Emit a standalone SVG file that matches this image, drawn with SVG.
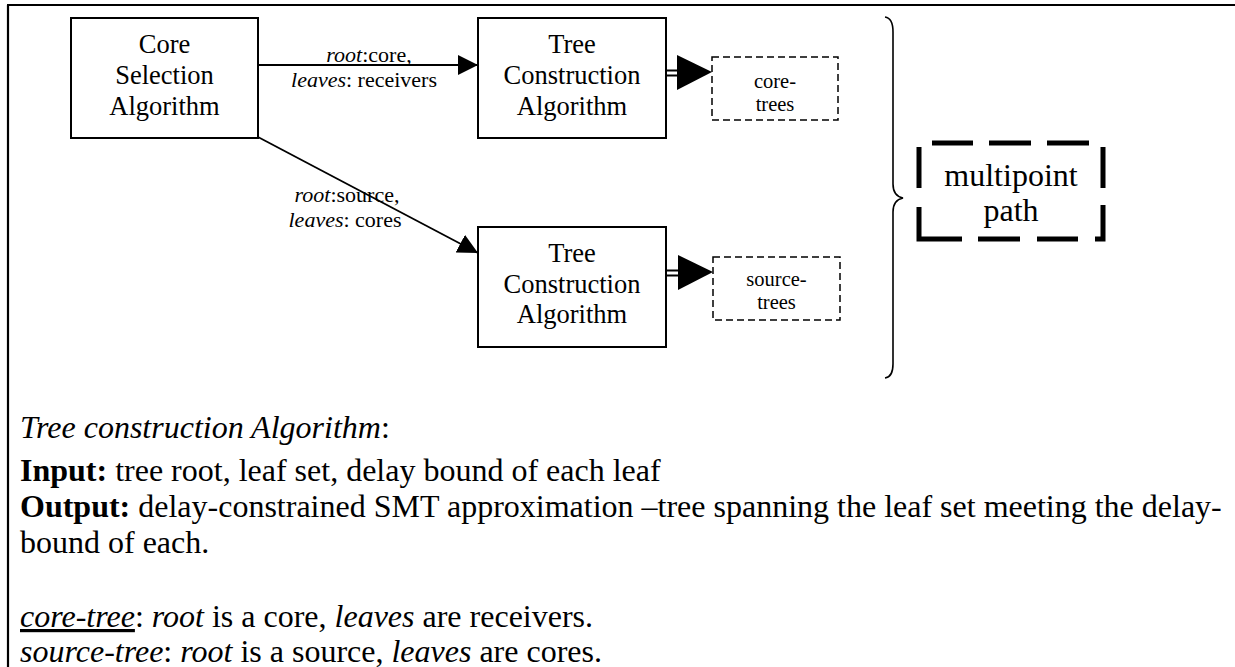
<svg xmlns="http://www.w3.org/2000/svg" width="1235" height="667" viewBox="0 0 1235 667">
<style>
.box{fill:#fff;stroke:#000;stroke-width:2}
.dbox{fill:#fff;stroke:#000;stroke-width:1.5;stroke-dasharray:7 4}
.ln{stroke:#000;stroke-width:1.8;fill:none}
.serif{font-family:"Liberation Serif","Times New Roman",serif;fill:#000}
.t26{font-size:26.5px;text-anchor:middle}
.t22{font-size:22px;text-anchor:middle}
.t20{font-size:20.5px;text-anchor:middle}
.t32{font-size:32px}
.it{font-style:italic}
.b{font-weight:bold}
</style>
<defs>
<marker id="ah" viewBox="0 0 20 20" markerUnits="userSpaceOnUse" markerWidth="20" markerHeight="20" refX="20" refY="10" orient="auto">
<path d="M0,0 L20,10 L0,20 z" fill="#000"/>
</marker>
<clipPath id="c1"><rect x="712" y="57" width="126" height="54"/></clipPath>
<clipPath id="c2"><rect x="713" y="257" width="127" height="53"/></clipPath>
</defs>
<rect width="1235" height="667" fill="#fff"/>
<path d="M7,5 H1235 M8,5 V667" stroke="#000" stroke-width="2.2" fill="none"/>

<g id="connectors">
<line class="ln" x1="258" y1="65" x2="478" y2="65" marker-end="url(#ah)"/>
<line class="ln" x1="258" y1="137" x2="478" y2="253" marker-end="url(#ah)"/>
<path class="ln" stroke-width="1.5" d="M666,70.5 H678 M666,75.5 H678"/>
<polygon points="677,55 712,72 677,90" fill="#000"/>
<path class="ln" stroke-width="1.5" d="M666,270.5 H679 M666,275.5 H679"/>
<polygon points="678,255 713,272 678,290" fill="#000"/>
<text class="serif t22" x="369" y="62"><tspan class="it">root</tspan>:core,</text>
<text class="serif t22" x="364" y="87"><tspan class="it">leaves</tspan>: receivers</text>
<text class="serif t22" x="347" y="202"><tspan class="it">root</tspan>:source,</text>
<text class="serif t22" x="345" y="227"><tspan class="it">leaves</tspan>: cores</text>
</g>

<g id="core-selection">
<rect class="box" x="71" y="18" width="187" height="120"/>
<text class="serif t26" x="164.5" y="53">Core</text>
<text class="serif t26" x="164.5" y="84">Selection</text>
<text class="serif t26" x="164.5" y="115">Algorithm</text>
</g>

<g id="tree-construction-1">
<rect class="box" x="478" y="18" width="188" height="120"/>
<text class="serif t26" x="572" y="53">Tree</text>
<text class="serif t26" x="572" y="84">Construction</text>
<text class="serif t26" x="572" y="115">Algorithm</text>
</g>

<g id="tree-construction-2">
<rect class="box" x="478" y="227" width="188" height="120"/>
<text class="serif t26" x="572" y="262">Tree</text>
<text class="serif t26" x="572" y="293">Construction</text>
<text class="serif t26" x="572" y="323">Algorithm</text>
</g>

<g id="core-trees">
<rect class="dbox" x="712" y="57" width="126" height="63"/>
<g clip-path="url(#c1)">
<text class="serif t20" x="775" y="88">core-</text>
<text class="serif t20" x="775" y="111">trees</text>
</g>
</g>

<g id="source-trees">
<rect class="dbox" x="713" y="257" width="127" height="63"/>
<g clip-path="url(#c2)">
<text class="serif t20" x="776.5" y="286">source-</text>
<text class="serif t20" x="776.5" y="309">trees</text>
</g>
</g>

<g id="brace">
<path d="M885,17 Q893,18 893,32 L893,184 Q893,196 903,198 Q893,200 893,212 L893,364 Q893,377 885,378" fill="none" stroke="#000" stroke-width="1.6"/>
</g>

<g id="multipoint-path">
<path d="M932,143 H973 M989,143 H1031 M1047,143 H1089 M919,147 V188 M919,207 V239 H962 M978,239 H1020 M1037,239 H1078 M1095,239 H1103 V205 M1103,147 V188" fill="none" stroke="#000" stroke-width="5"/>
<text class="serif t32" x="1011" y="186" text-anchor="middle">multipoint</text>
<text class="serif t32" x="1011" y="221" text-anchor="middle">path</text>
</g>

<g id="legend">
<text class="serif t32" x="20" y="438"><tspan class="it">Tree construction Algorithm</tspan>:</text>
<text class="serif t32" x="20" y="481"><tspan class="b">Input:</tspan> tree root, leaf set, delay bound of each leaf</text>
<text class="serif t32" x="20" y="517"><tspan class="b">Output:</tspan> delay-constrained SMT approximation –tree spanning the leaf set meeting the delay-</text>
<text class="serif t32" x="20" y="553">bound of each.</text>
<text class="serif t32" x="20" y="627"><tspan class="it" text-decoration="underline">core-tree</tspan>: <tspan class="it">root</tspan> is a core, <tspan class="it">leaves</tspan> are receivers.</text>
<text class="serif t32" x="20" y="662"><tspan class="it">source-tree</tspan>: <tspan class="it">root</tspan> is a source, <tspan class="it">leaves</tspan> are cores.</text>
</g>
</svg>
